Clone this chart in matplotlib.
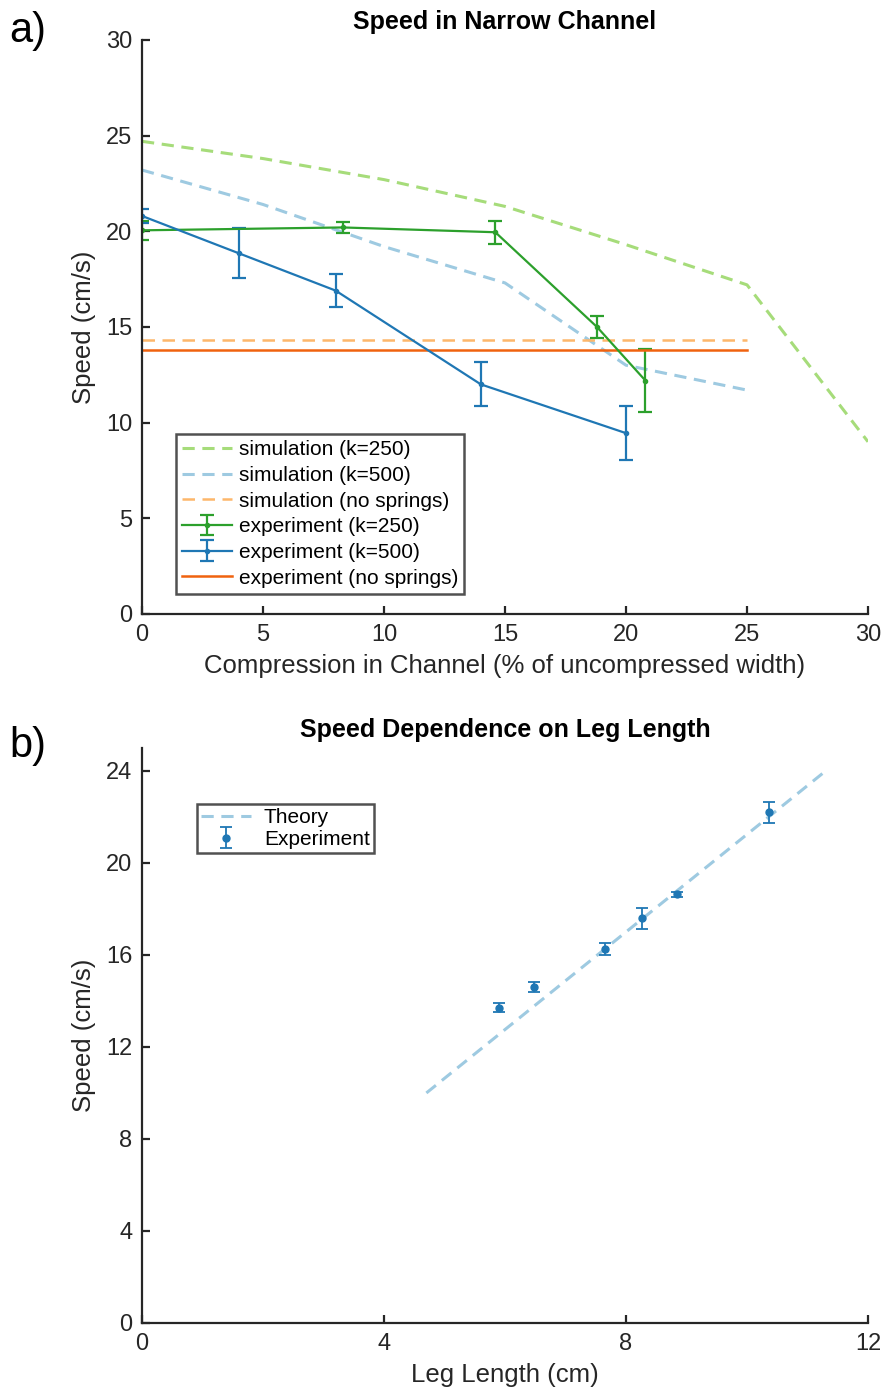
import numpy as np
import matplotlib
matplotlib.use('Agg')
import matplotlib.pyplot as plt

plt.rcParams['font.family'] = ['Liberation Sans', 'DejaVu Sans']

# panel a: speed vs compression
sim_x = [0, 5, 10, 15, 20, 25, 30]
sim_k250 = [24.7, 23.8, 22.7, 21.3, 19.3, 17.2, 9.0]
sim_k500_x = [0, 5, 10, 15, 20, 25]
sim_k500 = [23.2, 21.4, 19.2, 17.3, 13.0, 11.7]
sim_free_x = [0, 25]
sim_free = [14.3, 14.3]

exp_k250_x = [0, 8.3, 14.6, 18.8, 20.8]
exp_k250 = [20.05, 20.2, 19.95, 15.0, 12.2]
exp_k250_err = [0.5, 0.28, 0.6, 0.58, 1.63]

exp_k500_x = [0, 4.0, 8.0, 14.0, 20.0]
exp_k500 = [20.8, 18.85, 16.9, 12.0, 9.45]
exp_k500_err = [0.37, 1.3, 0.85, 1.15, 1.4]

exp_free_x = [0, 25]
exp_free = [13.8, 13.8]

# panel b: speed vs leg length
theory_x = [4.7, 11.3]
theory_y = [10.0, 24.0]
leg_x = [5.9, 6.48, 7.66, 8.26, 8.84, 10.37]
leg_speed = [13.7, 14.6, 16.25, 17.6, 18.63, 22.2]
leg_err = [0.2, 0.22, 0.25, 0.45, 0.11, 0.47]

c_green = '#2ca02c'
c_blue = '#1f77b4'
c_orange = '#f0620f'
c_lgreen = '#a6dc7a'
c_lblue = '#9ecae1'
c_lorange = '#fdb76b'
axcol = '#262626'


def style_axes(ax):
    for side in ['top', 'right']:
        ax.spines[side].set_visible(False)
    for side in ['left', 'bottom']:
        ax.spines[side].set_color(axcol)
        ax.spines[side].set_linewidth(1.6)
    ax.tick_params(direction='in', length=6, width=1.6, colors=axcol,
                   labelsize=17, labelcolor=axcol, pad=7)


fig = plt.figure(figsize=(8.85, 13.91), dpi=100)
ax1 = fig.add_axes([0.1605, 0.5586, 0.8203, 0.4127])
ax2 = fig.add_axes([0.1605, 0.0489, 0.8203, 0.4134])

h1, = ax1.plot(sim_x, sim_k250, color=c_lgreen, lw=2.2, dashes=(4, 2.5))
h2, = ax1.plot(sim_k500_x, sim_k500, color=c_lblue, lw=2.2, dashes=(4, 2.5))
h3, = ax1.plot(sim_free_x, sim_free, color=c_lorange, lw=1.8, dashes=(5, 3))
h4 = ax1.errorbar(exp_k250_x, exp_k250, yerr=exp_k250_err, color=c_green, lw=1.6,
                  marker='o', ms=3, capsize=5, capthick=1.6)
h5 = ax1.errorbar(exp_k500_x, exp_k500, yerr=exp_k500_err, color=c_blue, lw=1.6,
                  marker='o', ms=3, capsize=5, capthick=1.6)
h6, = ax1.plot(exp_free_x, exp_free, color=c_orange, lw=1.8)

ax1.set_xlim(0, 30)
ax1.set_ylim(0, 30)
ax1.set_xticks(range(0, 31, 5))
ax1.set_yticks(range(0, 31, 5))
style_axes(ax1)
ax1.set_title('Speed in Narrow Channel', fontsize=18, fontweight='bold', pad=8)
ax1.set_xlabel('Compression in Channel (% of uncompressed width)', fontsize=18.5,
               color=axcol, labelpad=6)
ax1.set_ylabel('Speed (cm/s)', fontsize=18.5, color=axcol, labelpad=7)
labels1 = ['simulation (k=250)', 'simulation (k=500)', 'simulation (no springs)',
           'experiment (k=250)', 'experiment (k=500)', 'experiment (no springs)']
leg1 = ax1.legend([h1, h2, h3, h4, h5, h6], labels1, loc='lower left',
                  bbox_to_anchor=(0.047, 0.035), fontsize=15, frameon=True,
                  fancybox=False, edgecolor=axcol, handlelength=2.4, borderpad=0.3,
                  labelspacing=0.32, handletextpad=0.3, borderaxespad=0)
leg1.get_frame().set_linewidth(1.8)

ht, = ax2.plot(theory_x, theory_y, color=c_lblue, lw=2.2, dashes=(4, 2.5))
he = ax2.errorbar(leg_x, leg_speed, yerr=leg_err, color=c_blue, lw=1.3, ls='none',
                  marker='o', ms=5, capsize=4.5, capthick=1.3)
ax2.set_xlim(0, 12)
ax2.set_ylim(0, 25)
ax2.set_xticks([0, 4, 8, 12])
ax2.set_yticks(range(0, 25, 4))
style_axes(ax2)
ax2.set_title('Speed Dependence on Leg Length', fontsize=18, fontweight='bold', pad=8)
ax2.set_xlabel('Leg Length (cm)', fontsize=18.5, color=axcol, labelpad=6)
ax2.set_ylabel('Speed (cm/s)', fontsize=18.5, color=axcol, labelpad=7)
leg2 = ax2.legend([ht, he], ['Theory', 'Experiment'], loc='upper left',
                  bbox_to_anchor=(0.076, 0.903), fontsize=15, frameon=True,
                  fancybox=False, edgecolor=axcol, handlelength=2.4, borderpad=0.2,
                  labelspacing=0.15, handletextpad=0.6, borderaxespad=0)
leg2.get_frame().set_linewidth(1.8)

fig.text(0.011, 0.97, 'a)', fontsize=30)
fig.text(0.011, 0.456, 'b)', fontsize=30)

fig.savefig('out.png', dpi=100)
